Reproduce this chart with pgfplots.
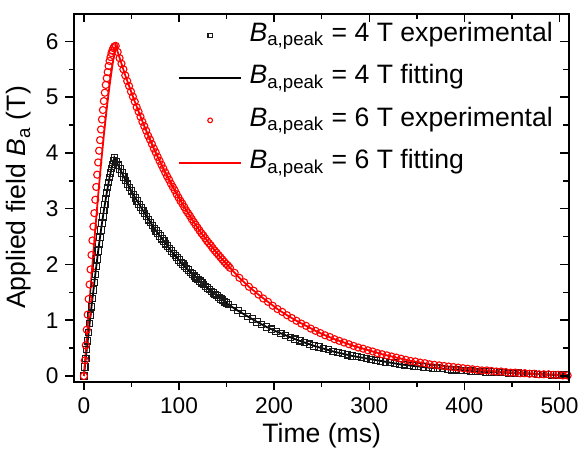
\documentclass[border=0pt]{standalone}
\usepackage{fontspec}
\setmainfont{Liberation Sans}
\usepackage{pgfplots}
\usepackage{pgfplotstable}
\pgfplotsset{compat=1.18}

\pgfplotstableread[row sep=\\]{t B\\
0 0\\ 1 0.16\\ 2 0.31\\ 3 0.47\\ 4 0.63\\ 5 0.78\\ 6 0.94\\ 7 1.09\\ 8 1.24\\ 9 1.39\\ 10 1.54\\ 11 1.68\\ 12 1.82\\ 13 1.96\\ 14 2.10\\ 15 2.24\\ 16 2.37\\ 17 2.49\\ 18 2.62\\ 19 2.74\\ 20 2.85\\ 21 2.97\\ 22 3.08\\ 23 3.18\\ 24 3.28\\ 25 3.38\\ 26 3.47\\ 27 3.56\\ 28 3.64\\ 29 3.72\\ 30 3.79\\ 31 3.86\\ 32 3.92\\
34 3.85\\ 36 3.78\\ 38 3.71\\ 40 3.64\\ 42 3.57\\ 44 3.51\\ 46 3.44\\ 48 3.38\\ 50 3.32\\ 52 3.25\\ 54 3.19\\ 56 3.14\\ 58 3.08\\ 60 3.02\\ 62 2.97\\ 64 2.91\\ 66 2.86\\ 68 2.80\\ 70 2.75\\ 72 2.70\\ 74 2.65\\ 76 2.60\\ 78 2.56\\ 80 2.51\\ 82 2.46\\ 84 2.42\\ 86 2.37\\ 88 2.33\\ 90 2.29\\ 92 2.24\\ 94 2.20\\ 96 2.16\\ 98 2.12\\ 100 2.08\\ 102 2.04\\ 104 2.01\\ 106 1.97\\ 108 1.93\\ 110 1.90\\ 112 1.86\\ 114 1.83\\ 116 1.79\\ 118 1.76\\ 120 1.73\\ 122 1.70\\ 124 1.67\\ 126 1.64\\ 128 1.60\\ 130 1.58\\ 132 1.55\\ 134 1.52\\ 136 1.49\\ 138 1.46\\ 140 1.44\\ 142 1.41\\ 144 1.38\\ 146 1.36\\ 148 1.33\\ 150 1.31\\ 152 1.28\\
157 1.23\\ 162 1.17\\ 167 1.12\\ 172 1.07\\ 177 1.02\\ 182 0.97\\ 187 0.92\\ 192 0.88\\ 197 0.84\\ 202 0.80\\ 207 0.76\\ 212 0.73\\ 217 0.69\\ 222 0.66\\ 227 0.63\\ 232 0.60\\ 237 0.57\\ 242 0.54\\ 247 0.52\\ 252 0.49\\ 257 0.47\\ 262 0.44\\ 267 0.42\\ 272 0.40\\ 277 0.38\\ 282 0.36\\ 287 0.35\\ 292 0.33\\ 297 0.31\\ 302 0.30\\ 307 0.28\\ 312 0.27\\ 317 0.25\\ 322 0.24\\ 327 0.23\\ 332 0.21\\ 337 0.20\\ 342 0.19\\ 347 0.18\\ 352 0.17\\ 357 0.16\\ 362 0.15\\ 367 0.14\\ 372 0.14\\ 377 0.13\\ 382 0.12\\ 387 0.11\\ 392 0.11\\ 397 0.10\\ 402 0.10\\ 407 0.09\\ 412 0.08\\ 417 0.08\\ 422 0.07\\ 427 0.07\\ 432 0.07\\ 437 0.06\\ 442 0.06\\ 447 0.05\\ 452 0.05\\ 457 0.05\\ 462 0.04\\ 467 0.04\\ 472 0.04\\ 477 0.03\\ 482 0.03\\ 487 0.03\\ 492 0.02\\ 497 0.02\\ 502 0.02\\ 507 0.02\\
}\blackexp

\pgfplotstableread[row sep=\\]{t B\\
0 0\\ 3 0.47\\ 6 0.94\\ 9 1.39\\ 12 1.82\\ 15 2.24\\ 18 2.62\\ 21 2.97\\ 24 3.28\\ 27 3.56\\ 30 3.79\\ 32 3.92\\
42 3.57\\ 52 3.25\\ 62 2.97\\ 72 2.70\\ 82 2.46\\ 92 2.24\\ 102 2.04\\ 112 1.86\\ 122 1.70\\ 132 1.55\\ 142 1.41\\ 152 1.28\\ 162 1.17\\ 172 1.07\\ 182 0.97\\ 192 0.88\\ 202 0.80\\ 212 0.73\\ 222 0.66\\ 232 0.60\\ 242 0.54\\ 252 0.49\\ 262 0.44\\ 272 0.40\\ 282 0.36\\ 292 0.33\\ 302 0.30\\ 312 0.27\\ 322 0.24\\ 332 0.21\\ 342 0.19\\ 352 0.17\\ 362 0.15\\ 372 0.14\\ 382 0.12\\ 392 0.11\\ 402 0.10\\ 412 0.08\\ 422 0.07\\ 432 0.07\\ 442 0.06\\ 452 0.05\\ 462 0.04\\ 472 0.04\\ 482 0.03\\ 492 0.02\\ 502 0.02\\ 510 0.02\\
}\blackfit

\pgfplotstableread[row sep=\\]{t B\\
0 0\\ 1 0.28\\ 2 0.55\\ 3 0.83\\ 4 1.10\\ 5 1.38\\ 6 1.64\\ 7 1.91\\ 8 2.17\\ 9 2.43\\ 10 2.68\\ 11 2.92\\ 12 3.16\\ 13 3.39\\ 14 3.61\\ 15 3.83\\ 16 4.04\\ 17 4.23\\ 18 4.42\\ 19 4.60\\ 20 4.77\\ 21 4.93\\ 22 5.08\\ 23 5.22\\ 24 5.34\\ 25 5.45\\ 26 5.56\\ 27 5.65\\ 28 5.72\\ 29 5.79\\ 30 5.84\\ 31 5.88\\ 32 5.91\\ 33.5 5.92\\
35.5 5.81\\ 37.5 5.70\\ 39.5 5.60\\ 41.5 5.50\\ 43.5 5.39\\ 45.5 5.29\\ 47.5 5.20\\ 49.5 5.10\\ 51.5 5.01\\ 53.5 4.92\\ 55.5 4.82\\ 57.5 4.74\\ 59.5 4.65\\ 61.5 4.56\\ 63.5 4.48\\ 65.5 4.40\\ 67.5 4.31\\ 69.5 4.24\\ 71.5 4.16\\ 73.5 4.08\\ 75.5 4.01\\ 77.5 3.93\\ 79.5 3.86\\ 81.5 3.79\\ 83.5 3.72\\ 85.5 3.65\\ 87.5 3.58\\ 89.5 3.52\\ 91.5 3.45\\ 93.5 3.39\\ 95.5 3.33\\ 97.5 3.26\\ 99.5 3.20\\ 101.5 3.14\\ 103.5 3.09\\ 105.5 3.03\\ 107.5 2.97\\ 109.5 2.92\\ 111.5 2.87\\ 113.5 2.81\\ 115.5 2.76\\ 117.5 2.71\\ 119.5 2.66\\ 121.5 2.61\\ 123.5 2.56\\ 125.5 2.52\\ 127.5 2.47\\ 129.5 2.42\\ 131.5 2.38\\ 133.5 2.34\\ 135.5 2.29\\ 137.5 2.25\\ 139.5 2.21\\ 141.5 2.17\\ 143.5 2.13\\ 145.5 2.09\\ 147.5 2.05\\ 149.5 2.01\\ 151.5 1.98\\ 153.5 1.94\\
158.5 1.85\\ 163.5 1.76\\ 168.5 1.68\\ 173.5 1.60\\ 178.5 1.53\\ 183.5 1.46\\ 188.5 1.39\\ 193.5 1.33\\ 198.5 1.26\\ 203.5 1.20\\ 208.5 1.15\\ 213.5 1.09\\ 218.5 1.04\\ 223.5 0.99\\ 228.5 0.94\\ 233.5 0.90\\ 238.5 0.85\\ 243.5 0.81\\ 248.5 0.77\\ 253.5 0.73\\ 258.5 0.70\\ 263.5 0.66\\ 268.5 0.63\\ 273.5 0.60\\ 278.5 0.57\\ 283.5 0.54\\ 288.5 0.51\\ 293.5 0.49\\ 298.5 0.46\\ 303.5 0.44\\ 308.5 0.41\\ 313.5 0.39\\ 318.5 0.37\\ 323.5 0.35\\ 328.5 0.33\\ 333.5 0.31\\ 338.5 0.29\\ 343.5 0.27\\ 348.5 0.26\\ 353.5 0.24\\ 358.5 0.23\\ 363.5 0.21\\ 368.5 0.20\\ 373.5 0.19\\ 378.5 0.18\\ 383.5 0.17\\ 388.5 0.16\\ 393.5 0.15\\ 398.5 0.14\\ 403.5 0.13\\ 408.5 0.12\\ 413.5 0.11\\ 418.5 0.10\\ 423.5 0.10\\ 428.5 0.09\\ 433.5 0.08\\ 438.5 0.08\\ 443.5 0.07\\ 448.5 0.06\\ 453.5 0.06\\ 458.5 0.05\\ 463.5 0.05\\ 468.5 0.04\\ 473.5 0.04\\ 478.5 0.03\\ 483.5 0.03\\ 488.5 0.03\\ 493.5 0.02\\ 498.5 0.02\\ 503.5 0.01\\ 508.5 0.01\\
}\redexp

\pgfplotstableread[row sep=\\]{t B\\
0 0\\ 3 0.68\\ 6 1.35\\ 9 2.01\\ 12 2.64\\ 15 3.24\\ 18 3.80\\ 21 4.32\\ 24 4.79\\ 27 5.21\\ 30 5.57\\ 33.5 5.92\\
43.5 5.39\\ 53.5 4.92\\ 63.5 4.48\\ 73.5 4.08\\ 83.5 3.72\\ 93.5 3.39\\ 103.5 3.09\\ 113.5 2.81\\ 123.5 2.56\\ 133.5 2.34\\ 143.5 2.13\\ 153.5 1.94\\ 163.5 1.76\\ 173.5 1.60\\ 183.5 1.46\\ 193.5 1.33\\ 203.5 1.20\\ 213.5 1.09\\ 223.5 0.99\\ 233.5 0.90\\ 243.5 0.81\\ 253.5 0.73\\ 263.5 0.66\\ 273.5 0.60\\ 283.5 0.54\\ 293.5 0.49\\ 303.5 0.44\\ 313.5 0.39\\ 323.5 0.35\\ 333.5 0.31\\ 343.5 0.27\\ 353.5 0.24\\ 363.5 0.21\\ 373.5 0.19\\ 383.5 0.17\\ 393.5 0.15\\ 403.5 0.13\\ 413.5 0.11\\ 423.5 0.10\\ 433.5 0.08\\ 443.5 0.07\\ 453.5 0.06\\ 463.5 0.05\\ 473.5 0.04\\ 483.5 0.03\\ 493.5 0.02\\ 503.5 0.01\\ 510 0.01\\
}\redfit

\pgfplotsset{
  frameaxis/.style={
    scale only axis, width=250bp, height=186bp,
    xmin=-10, xmax=510, ymin=-0.1, ymax=6.5,
    xtick={0,100,...,500}, minor xtick={50,150,...,450},
    ytick={0,1,...,6}, minor ytick={0.5,1.5,...,5.5},
    major tick length=4.5bp, minor tick length=2.5bp,
    every tick/.append style={black, line width=0.75bp},
    axis line style={line width=1bp},
  },
  lineleg/.style={legend image code/.code={\draw[#1, line width=0.9bp] (0bp,0bp) -- (31bp,0bp);}},
  markleg/.style={legend image code/.code={\draw[##1, mark size=#1] plot coordinates {(15.5bp,0bp)};}},
}

\begin{document}
\begin{tikzpicture}
\begin{axis}[frameaxis,
  tick align=outside, xtick pos=left, ytick pos=left,
  ticklabel style={font=\fontsize{11.5}{12}\selectfont},
  /pgf/number format/assume math mode=true,
  label style={font=\fontsize{13.5}{15}\selectfont},
  xlabel={Time (ms)},
  ylabel={Applied field \textit{B}\textsubscript{a} (T)},
  xlabel style={yshift=2bp},
  ylabel style={yshift=0.5bp},
  legend cell align=left,
  legend style={at={(0.972,0.985)}, anchor=north east, draw=none, fill=none,
    font=\fontsize{13.5}{15}\selectfont, inner sep=0pt, row sep=5.5bp,
    /tikz/every odd column/.append style={column sep=3bp},
    nodes={inner sep=1bp, text height=10bp, text depth=4bp}},
]
\addplot[only marks, mark=square, mark size=1.6bp, black!90, mark options={line width=0.55bp}, markleg=1.1bp]
  table[x=t, y=B] {\blackexp};
\addlegendentry{\textit{B}\textsubscript{a,peak} = 4 T experimental}
\addplot[black, line width=0.9bp, mark=none, lineleg=black]
  table[x=t, y=B] {\blackfit};
\addlegendentry{\textit{B}\textsubscript{a,peak} = 4 T fitting}
\addplot[only marks, mark=o, mark size=1.8bp, red, mark options={line width=0.55bp}, markleg=1.2bp]
  table[x=t, y=B] {\redexp};
\addlegendentry{\textit{B}\textsubscript{a,peak} = 6 T experimental}
\addplot[red, line width=0.9bp, mark=none, lineleg=red]
  table[x=t, y=B] {\redfit};
\addlegendentry{\textit{B}\textsubscript{a,peak} = 6 T fitting}
\end{axis}
\begin{axis}[frameaxis,
  tick align=inside, xtick pos=right, ytick pos=right,
  xticklabels={}, yticklabels={},
  major tick length=4.5bp, minor tick length=3bp,
]
\end{axis}
\end{tikzpicture}
\end{document}
